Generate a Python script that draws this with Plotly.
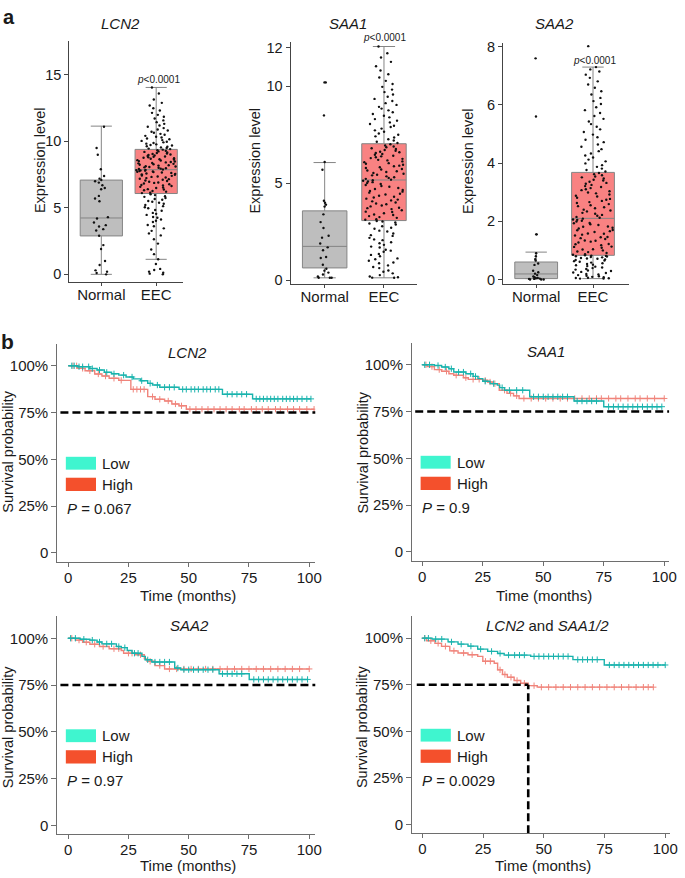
import numpy as np
import plotly.graph_objects as go

W, H = 685, 878
FONT = "Liberation Sans, Arial, sans-serif"
TXT = "#1a1a1a"

# ---------------- Panel a: expression data ----------------
categories = ["Normal", "EEC"]
box_genes = ["LCN2", "SAA1", "SAA2"]

# box statistics: [lower whisker, Q1, median, Q3, upper whisker]
lcn2_stats_normal = [0.0, 2.89, 4.24, 7.09, 11.15]
lcn2_stats_eec = [1.13, 6.08, 7.87, 9.40, 14.06]
saa1_stats_normal = [0.13, 0.64, 1.75, 3.58, 6.07]
saa1_stats_eec = [0.13, 3.08, 5.17, 7.04, 12.05]
saa2_stats_normal = [0.03, 0.03, 0.19, 0.60, 0.94]
saa2_stats_eec = [0.03, 0.83, 2.10, 3.68, 7.30]

lcn2_normal = [11.1, 9.5, 9.0, 7.9, 7.4, 7.2, 7.1, 7.0, 6.9, 6.7, 6.5, 6.4, 5.9, 5.7, 5.5,
               4.3, 4.2, 3.9, 3.7, 3.6, 3.4, 3.3, 2.9, 2.2, 1.9, 1.0, 0.7, 0.3, 0.2, 0.1, 0.0]
lcn2_eec = [0.0, 0.05, 0.12, 0.2, 0.33, 0.41, 0.78,
            1.13, 1.52, 1.87, 2.31, 2.64, 2.93, 3.08, 3.27, 3.46, 3.62, 3.71, 3.94,
            4.03, 4.12, 4.26, 4.31, 4.47, 4.55, 4.62, 4.78, 4.84, 4.97, 5.05, 5.13, 5.22, 5.31,
            5.38, 5.46, 5.52, 5.61, 5.67, 5.74, 5.83, 5.88, 5.96, 6.03,
            6.11, 6.14, 6.22, 6.27, 6.33, 6.38, 6.41, 6.49, 6.53, 6.58, 6.64, 6.69, 6.72, 6.78,
            6.83, 6.88, 6.91, 6.97, 7.02, 7.06, 7.11, 7.16, 7.19, 7.24, 7.28, 7.33, 7.36, 7.41,
            7.44, 7.49, 7.52, 7.56, 7.59, 7.63, 7.66, 7.69, 7.72, 7.74, 7.77, 7.8, 7.82, 7.84, 7.86,
            7.89, 7.92, 7.95, 7.98, 8.02, 8.05, 8.08, 8.11, 8.14, 8.18, 8.21, 8.24, 8.28, 8.31,
            8.35, 8.38, 8.42, 8.45, 8.49, 8.52, 8.56, 8.59, 8.63, 8.66, 8.7, 8.73, 8.77, 8.8,
            8.84, 8.87, 8.91, 8.94, 8.98, 9.02, 9.05, 9.09, 9.13, 9.17, 9.21, 9.25, 9.29, 9.33, 9.38,
            9.42, 9.46, 9.5, 9.55, 9.6, 9.64, 9.69, 9.73, 9.78, 9.83, 9.88, 9.93, 9.98, 10.04,
            10.1, 10.16, 10.22, 10.29, 10.35, 10.42, 10.5, 10.57, 10.65, 10.73, 10.82, 10.9,
            11.0, 11.1, 11.2, 11.32, 11.45, 11.58, 11.72, 11.86, 12.0, 12.15, 12.32, 12.5,
            12.7, 12.9, 13.15, 13.6, 14.06]

saa1_normal = [10.2, 10.2, 8.5, 6.1, 5.7, 4.1, 4.0, 3.9, 3.8, 3.4, 3.0, 2.7, 2.3, 2.2, 1.9,
               1.7, 1.55, 1.2, 1.15, 0.8, 0.6, 0.5, 0.4, 0.3, 0.2, 0.13, 0.13, 0.13]
saa1_eec = [0.13, 0.14, 0.16, 0.2, 0.27, 0.36, 0.44, 0.51, 0.63, 0.69, 0.77, 0.88, 0.92, 1.01,
            1.09, 1.13, 1.24, 1.31, 1.36, 1.47, 1.53, 1.58, 1.69, 1.74, 1.83, 1.91, 1.96, 2.07,
            2.11, 2.19, 2.29, 2.33, 2.41, 2.52, 2.56, 2.66, 2.71, 2.79, 2.88, 2.93, 2.98, 3.03, 3.06,
            3.12, 3.15, 3.22, 3.26, 3.31, 3.37, 3.39, 3.46, 3.52, 3.54, 3.61, 3.67, 3.72, 3.74,
            3.81, 3.86, 3.92, 3.96, 4.01, 4.07, 4.12, 4.16, 4.21, 4.27, 4.31, 4.36, 4.42, 4.46,
            4.52, 4.57, 4.61, 4.66, 4.71, 4.76, 4.82, 4.86, 4.91, 4.97, 5.01, 5.06, 5.09, 5.13, 5.16,
            5.19, 5.23, 5.28, 5.31, 5.36, 5.41, 5.44, 5.49, 5.53, 5.58, 5.62, 5.66, 5.71, 5.74,
            5.79, 5.83, 5.88, 5.91, 5.96, 6.01, 6.04, 6.09, 6.13, 6.18, 6.21, 6.26, 6.3, 6.34,
            6.39, 6.42, 6.47, 6.51, 6.56, 6.6, 6.63, 6.68, 6.72, 6.77, 6.81, 6.86, 6.9, 6.95, 7.01,
            7.08, 7.14, 7.21, 7.27, 7.36, 7.42, 7.5, 7.57, 7.66, 7.73, 7.82, 7.9, 7.97, 8.06,
            8.14, 8.23, 8.31, 8.4, 8.48, 8.57, 8.66, 8.76, 8.85, 8.94, 9.04, 9.13, 9.24, 9.35,
            9.46, 9.58, 9.7, 9.83, 9.97, 10.12, 10.28, 10.45, 10.62, 10.81, 11.03, 11.26, 11.48,
            11.7, 12.05]

saa2_normal = [7.6, 5.6, 1.55, 1.55, 0.9, 0.8, 0.7, 0.65, 0.55, 0.5, 0.3, 0.25, 0.2, 0.15,
               0.1, 0.08, 0.05, 0.04, 0.03, 0.02, 0.02, 0.0, 0.0, 0.0]
saa2_eec = [0.03, 0.03, 0.04, 0.05, 0.06, 0.08, 0.09, 0.11, 0.13, 0.15, 0.17, 0.19, 0.22, 0.24,
            0.26, 0.29, 0.31, 0.34, 0.36, 0.39, 0.41, 0.44, 0.46, 0.49, 0.51, 0.53, 0.56, 0.58,
            0.61, 0.63, 0.65, 0.67, 0.69, 0.71, 0.72, 0.74, 0.76, 0.77, 0.79, 0.8, 0.81, 0.82, 0.83,
            0.85, 0.87, 0.91, 0.94, 0.96, 1.0, 1.03, 1.04, 1.09, 1.12, 1.13, 1.18, 1.21, 1.22,
            1.27, 1.3, 1.33, 1.34, 1.39, 1.42, 1.45, 1.46, 1.51, 1.54, 1.57, 1.58, 1.63, 1.66,
            1.69, 1.7, 1.75, 1.78, 1.81, 1.82, 1.87, 1.9, 1.93, 1.94, 1.99, 2.02, 2.05, 2.06, 2.09,
            2.12, 2.15, 2.19, 2.22, 2.26, 2.29, 2.34, 2.37, 2.4, 2.45, 2.48, 2.52, 2.55, 2.59,
            2.63, 2.66, 2.7, 2.74, 2.77, 2.81, 2.85, 2.88, 2.92, 2.96, 2.99, 3.03, 3.07, 3.1,
            3.14, 3.18, 3.21, 3.25, 3.29, 3.32, 3.36, 3.4, 3.43, 3.47, 3.51, 3.54, 3.58, 3.62, 3.66,
            3.71, 3.76, 3.81, 3.87, 3.93, 3.99, 4.06, 4.12, 4.19, 4.26, 4.33, 4.41, 4.48, 4.56,
            4.64, 4.72, 4.8, 4.89, 4.98, 5.07, 5.16, 5.25, 5.34, 5.43, 5.52, 5.62, 5.72, 5.82,
            5.92, 6.03, 6.13, 6.24, 6.36, 6.47, 6.59, 6.7, 6.81, 6.93, 7.04, 7.15, 7.22, 7.3, 8.02]

lcn2_ticks = [0, 5, 10, 15]
saa1_ticks = [0, 5, 10, 12]
saa2_ticks = [0, 2, 4, 6, 8]
p_box_label = "<i>p</i>&lt;0.0001"

# ---------------- Panel b: Kaplan-Meier data ----------------
km_titles = ["<i>LCN2</i>", "<i>SAA1</i>", "<i>SAA2</i>", "<i>LCN2</i> and <i>SAA1/2</i>"]
km_pvalues = ["0.067", "0.9", "0.97", "0.0029"]
group_labels = ["Low", "High"]
time_ticks = [0, 25, 50, 75, 100]
surv_ticks = [0, 0.25, 0.5, 0.75, 1.0]
surv_tick_text = ["0", "25%", "50%", "75%", "100%"]

lcn2_low_t = [0, 4, 9, 12, 15, 18, 21, 24, 27, 30, 33, 35, 38, 46, 64, 76.5, 100.7]
lcn2_low_s = [1.0, 0.995, 0.985, 0.977, 0.965, 0.957, 0.95, 0.94, 0.93, 0.92, 0.906, 0.897,
              0.885, 0.874, 0.848, 0.823, 0.823]
lcn2_low_cens = [1.5, 2.5, 4.5, 6, 8.5, 10, 13, 16, 19, 23, 26.5, 30.5, 34, 37, 40, 42, 44,
                 47.5, 49, 51, 52.5, 54, 56, 57.5, 59, 61, 62.5, 66, 68, 70, 72, 74, 78, 79.5,
                 81, 82.5, 84, 85.5, 87, 89, 90.5, 92, 93.5, 95, 97, 99, 100.7]
lcn2_high_t = [0, 4, 7, 11, 14, 17, 21, 26, 33, 36, 40, 43, 46, 49, 102]
lcn2_high_s = [1.0, 0.986, 0.973, 0.956, 0.945, 0.933, 0.922, 0.874, 0.835, 0.821, 0.812,
               0.796, 0.786, 0.768, 0.768]
lcn2_high_cens = [2, 3.5, 6, 9, 12.5, 15.5, 19, 22, 27, 28.5, 30, 31.5, 35, 38, 41.5, 44.5,
                  47, 50.5, 53, 55.5, 58, 60.5, 63, 65.5, 68, 71, 73, 76, 78, 80.5, 83, 86, 88,
                  91, 93.5, 96, 99, 102]

saa1_low_t = [0, 5, 8, 11, 13, 18, 21, 23, 25, 28, 31, 32, 34, 44.4, 62.7, 75, 99]
saa1_low_s = [1.0, 0.996, 0.988, 0.979, 0.961, 0.952, 0.938, 0.926, 0.912, 0.899, 0.891,
              0.878, 0.864, 0.829, 0.806, 0.776, 0.776]
saa1_low_cens = [1, 3, 6.5, 9.5, 12, 15, 17, 20, 22, 26, 29.5, 33, 36, 39, 41.5, 46, 48, 50,
                 52, 54, 56, 58, 60, 64, 66, 68, 70, 72, 77, 79, 81, 83, 85, 87, 89, 91, 93,
                 95, 97, 99]
saa1_high_t = [0, 2, 5, 8, 11, 13, 17, 19, 25, 27, 29, 31.8, 35, 37.7, 40, 100]
saa1_high_s = [1.0, 0.99, 0.974, 0.965, 0.952, 0.944, 0.931, 0.922, 0.917, 0.908, 0.899,
               0.864, 0.847, 0.834, 0.82, 0.82]
saa1_high_cens = [1.5, 4, 7, 10, 14, 18, 21, 23.5, 26, 28, 30, 34, 36.5, 39, 42, 45, 48, 51,
                  54, 57, 60, 63, 66, 69, 72, 74, 77, 80, 82, 85, 88, 90, 93, 96, 100]

saa2_low_t = [0, 5, 9, 12, 14, 20, 22, 24.5, 26.5, 30.6, 32, 34.7, 44.2, 46.7, 62.6, 75.1, 99.3]
saa2_low_s = [1.0, 0.995, 0.99, 0.98, 0.97, 0.956, 0.95, 0.935, 0.92, 0.903, 0.885, 0.873,
              0.841, 0.832, 0.81, 0.78, 0.78]
saa2_low_cens = [1, 3, 6.5, 10, 13, 16, 18, 21, 23.5, 27.5, 29, 33, 36, 38, 40, 42, 45.5, 48,
                 50, 52, 54, 56, 58, 60, 64, 66, 68, 70, 72, 77, 79, 81, 83, 85, 87, 89, 91,
                 93, 95, 97, 99.3]
saa2_high_t = [0, 3, 6, 9, 13, 17, 22, 23, 28, 31.6, 32.7, 36, 40, 100]
saa2_high_s = [1.0, 0.99, 0.979, 0.968, 0.956, 0.944, 0.935, 0.92, 0.912, 0.89, 0.877,
               0.854, 0.836, 0.836]
saa2_high_cens = [1.5, 4.5, 7.5, 11, 14.5, 19, 21, 25, 26.5, 30, 34, 38, 42, 45, 48, 51, 54,
                  57, 60, 63, 66, 69, 72, 75, 78, 81, 84, 87, 90, 93, 96, 100]

comb_low_t = [0, 4, 10.6, 14.7, 18.8, 22.8, 26.9, 31, 33.7, 44.6, 62, 74.9, 100]
comb_low_s = [1.0, 0.995, 0.98, 0.968, 0.957, 0.941, 0.929, 0.918, 0.909, 0.902, 0.885,
              0.856, 0.856]
comb_low_cens = [1, 2.5, 5.5, 8, 12, 16, 20, 24, 28.5, 32, 35.5, 38, 40, 42, 46, 48, 50, 52,
                 54, 56, 58, 60, 64, 66, 68, 70, 72, 77, 79, 81, 83, 85, 87, 89, 91, 93, 95,
                 97, 100]
comb_high_t = [0, 1.8, 5.2, 7.9, 11.3, 14.7, 18.8, 22.8, 24.9, 29.6, 31, 33, 35, 37.8, 40.5,
               43.6, 47.3, 95.1]
comb_high_s = [1.0, 0.986, 0.972, 0.956, 0.932, 0.92, 0.911, 0.902, 0.876, 0.865, 0.83,
               0.805, 0.79, 0.773, 0.758, 0.745, 0.737, 0.737]
comb_high_cens = [1, 3.5, 6.5, 9.5, 13, 17, 20.5, 26, 28, 32, 34, 36.5, 39, 42, 46, 49, 52,
                  55, 58, 61, 64, 67, 70, 73, 76, 79, 82, 85, 88, 91, 93, 95.1]

reference_survival = 0.75

# ---------------- styling ----------------
BOX_FILL = {"Normal": "#bebebe", "EEC": "#f98282"}
BOX_LINE = "#858585"
LOW_LINE, HIGH_LINE = "#19b3ad", "#f0847b"
LOW_SWATCH, HIGH_SWATCH = "#3ff5cf", "#f4502c"
AXIS_BOX = "#444444"
AXIS_KM = "#6e6e6e"


def xdom(a, b):
    return [a / W, b / W]


def ydom(top, bottom):
    return [1 - bottom / H, 1 - top / H]


fig = go.Figure()

# ---- box panels ----
box_panels = [
    dict(ax="", normal=lcn2_normal, eec=lcn2_eec, sn=lcn2_stats_normal, se=lcn2_stats_eec,
         xd=xdom(70, 185), yd=ydom(37, 281), xr=[-0.586, 1.486], yr=[-0.61, 17.58],
         ticks=lcn2_ticks, width=0.77),
    dict(ax="2", normal=saa1_normal, eec=saa1_eec, sn=saa1_stats_normal, se=saa1_stats_eec,
         xd=xdom(294, 422), yd=ydom(38, 283), xr=[-0.575, 1.558], yr=[-0.21, 12.3],
         ticks=saa1_ticks, width=0.75),
    dict(ax="3", normal=saa2_normal, eec=saa2_eec, sn=saa2_stats_normal, se=saa2_stats_eec,
         xd=xdom(509, 636), yd=ydom(39, 283), xr=[-0.583, 1.626], yr=[-0.17, 8.14],
         ticks=saa2_ticks, width=0.753),
]

for p in box_panels:
    xa, ya = "x" + p["ax"], "y" + p["ax"]
    for cat, stats, pts, jit in [("Normal", p["sn"], p["normal"], 0.45),
                                 ("EEC", p["se"], p["eec"], 0.95)]:
        fig.add_trace(go.Box(
            x=[cat], lowerfence=[stats[0]], q1=[stats[1]], median=[stats[2]],
            q3=[stats[3]], upperfence=[stats[4]], orientation="v",
            fillcolor=BOX_FILL[cat], line=dict(color=BOX_LINE, width=1),
            width=p["width"], whiskerwidth=0.5, boxpoints=False,
            xaxis=xa, yaxis=ya, showlegend=False, hoverinfo="skip"))
        fig.add_trace(go.Box(
            x=[cat] * len(pts), y=pts, orientation="v", boxpoints="all",
            jitter=jit, pointpos=0, width=p["width"],
            fillcolor="rgba(0,0,0,0)", line=dict(color="rgba(0,0,0,0)", width=0),
            marker=dict(color="#111111", size=2.4), xaxis=xa, yaxis=ya,
            showlegend=False, hoveron="points"))

# ---- KM panels ----
km_panels = [
    dict(ax="4", low=(lcn2_low_t, lcn2_low_s, lcn2_low_cens),
         high=(lcn2_high_t, lcn2_high_s, lcn2_high_cens),
         xd=xdom(58, 319), yd=ydom(343, 563), xr=[-4.5, 102.5]),
    dict(ax="5", low=(saa1_low_t, saa1_low_s, saa1_low_cens),
         high=(saa1_high_t, saa1_high_s, saa1_high_cens),
         xd=xdom(417, 677), yd=ydom(342, 562), xr=[-4.2, 102.0]),
    dict(ax="6", low=(saa2_low_t, saa2_low_s, saa2_low_cens),
         high=(saa2_high_t, saa2_high_s, saa2_high_cens),
         xd=xdom(58, 319), yd=ydom(618, 838), xr=[-4.5, 102.5]),
    dict(ax="7", low=(comb_low_t, comb_low_s, comb_low_cens),
         high=(comb_high_t, comb_high_s, comb_high_cens),
         xd=xdom(417, 678), yd=ydom(618, 837), xr=[-4.2, 102.0]),
]
km_yrange = [-0.048, 1.117]


def step_at(times, surv, query):
    times = np.asarray(times, dtype=float)
    surv = np.asarray(surv, dtype=float)
    idx = np.searchsorted(times, np.asarray(query, dtype=float), side="right") - 1
    return surv[np.clip(idx, 0, len(surv) - 1)]


for p in km_panels:
    xa, ya = "x" + p["ax"], "y" + p["ax"]
    for (t, s, c), col in [(p["high"], HIGH_LINE), (p["low"], LOW_LINE)]:
        fig.add_trace(go.Scatter(x=t, y=s, mode="lines", line=dict(color=col, width=1.4, shape="hv"),
                                 xaxis=xa, yaxis=ya, showlegend=False, hoverinfo="skip"))
        fig.add_trace(go.Scatter(x=c, y=step_at(t, s, c), mode="markers",
                                 marker=dict(symbol="cross-thin", size=4.5,
                                             line=dict(color=col, width=1)),
                                 xaxis=xa, yaxis=ya, showlegend=False, hoverinfo="skip"))

# ---------------- layout axes ----------------
layout = dict(width=W, height=H, margin=dict(l=0, r=0, t=0, b=0),
              paper_bgcolor="white", plot_bgcolor="white", showlegend=False,
              font=dict(family=FONT, color=TXT))

for p in box_panels:
    n = p["ax"]
    layout["xaxis" + n] = dict(domain=p["xd"], anchor="y" + n, type="category",
                               categoryorder="array", categoryarray=categories,
                               range=p["xr"], showline=True, linecolor=AXIS_BOX, linewidth=1,
                               ticks="outside", ticklen=3, tickcolor=AXIS_BOX,
                               ticklabelstandoff=-4,
                               tickfont=dict(size=15, color=TXT), showgrid=False, zeroline=False)
    layout["yaxis" + n] = dict(domain=p["yd"], anchor="x" + n, range=p["yr"],
                               tickvals=p["ticks"], showline=True, linecolor=AXIS_BOX,
                               linewidth=1, ticks="outside", ticklen=4, tickcolor=AXIS_BOX,
                               tickfont=dict(size=14.5, color=TXT), showgrid=False,
                               zeroline=False)

for p in km_panels:
    n = p["ax"]
    layout["xaxis" + n] = dict(domain=p["xd"], anchor="y" + n, range=p["xr"],
                               tickvals=time_ticks, showline=True, linecolor=AXIS_KM,
                               linewidth=1.2, ticks="outside", ticklen=4, tickcolor=AXIS_KM,
                               ticklabelstandoff=-2,
                               tickfont=dict(size=15, color=TXT), showgrid=False,
                               zeroline=False)
    layout["yaxis" + n] = dict(domain=p["yd"], anchor="x" + n, range=km_yrange,
                               tickvals=surv_ticks, ticktext=surv_tick_text, showline=True,
                               linecolor=AXIS_KM, linewidth=1.2, ticks="outside", ticklen=5,
                               tickcolor=AXIS_KM, tickfont=dict(size=15, color=TXT),
                               showgrid=False, zeroline=False)

fig.update_layout(**layout)

# ---------------- annotations & shapes ----------------
ann = []


def paper_text(text, xpx, ypx, size, angle=0, bold=False, xanchor="center", yanchor="middle"):
    ann.append(dict(text=("<b>%s</b>" % text) if bold else text, x=xpx / W, y=1 - ypx / H,
                    xref="paper", yref="paper", showarrow=False, textangle=angle,
                    xanchor=xanchor, yanchor=yanchor, font=dict(size=size, color=TXT)))


paper_text("a", 9, 0, 20, bold=True, yanchor="top")
paper_text("b", 8, 341, 21, bold=True)

# box titles, y-titles, p labels
for (gene, xc, ytx, pval_xy) in [("LCN2", 122, 40, (160, 76)),
                                 ("SAA1", 352, 258, (389, 34)),
                                 ("SAA2", 561, 473, (602, 57))]:
    paper_text("<i>%s</i>" % gene, xc, 20, 15)
    paper_text("Expression level", ytx, 158, 14.5, angle=-90)
    paper_text(p_box_label, pval_xy[0], pval_xy[1], 10)

# KM titles, axis titles, legends, p values
km_axis_titles = [(8, 452, 190, 597), (367, 453, 550, 597), (8, 730, 190, 869), (367, 730, 549, 869)]
km_title_x = [0.506, 0.52, 0.513, 0.523]
for i, p in enumerate(km_panels):
    n = p["ax"]
    ytx, yty, xtx, xty = km_axis_titles[i]
    paper_text("Survival probability", ytx, yty, 14.5, angle=-90)
    paper_text("Time (months)", xtx, xty, 15)
    ann.append(dict(text=km_titles[i], x=km_title_x[i], y=0.96, xref="x%s domain" % n,
                    yref="y%s domain" % n, showarrow=False, xanchor="center",
                    yanchor="middle", font=dict(size=15, color=TXT)))
    for lab, ymid in zip(group_labels, [0.452, 0.355]):
        ann.append(dict(text=lab, x=0.165, y=ymid, xref="x%s domain" % n,
                        yref="y%s domain" % n, showarrow=False, xanchor="left",
                        yanchor="middle", font=dict(size=15, color=TXT)))
    ann.append(dict(text="<i>P</i> = %s" % km_pvalues[i], x=0.03, y=0.245,
                    xref="x%s domain" % n, yref="y%s domain" % n, showarrow=False,
                    xanchor="left", yanchor="middle", font=dict(size=15, color=TXT)))

shapes = []
for p in km_panels:
    n = p["ax"]
    for col, (y0, y1) in [(LOW_SWATCH, (0.423, 0.482)), (HIGH_SWATCH, (0.325, 0.386))]:
        shapes.append(dict(type="rect", xref="x%s domain" % n, yref="y%s domain" % n,
                           x0=0.033, x1=0.15, y0=y0, y1=y1, fillcolor=col,
                           line=dict(width=0), layer="above"))

DASH = dict(color="black", width=2.6, dash="8px,4px")
for p in km_panels[:3]:
    n = p["ax"]
    shapes.append(dict(type="line", xref="x%s domain" % n, yref="y" + n, x0=0.012, x1=1.0,
                       y0=reference_survival, y1=reference_survival, line=DASH, layer="above"))

# combined panel: 75% reached by the high group
ht = np.asarray(comb_high_t)
hs = np.asarray(comb_high_s)
t75 = float(ht[np.argmax(hs <= reference_survival)])
shapes.append(dict(type="line", xref="x7", yref="y7", x0=-2.3, x1=t75,
                   y0=reference_survival, y1=reference_survival, line=DASH, layer="above"))
shapes.append(dict(type="line", xref="x7", yref="y7", x0=t75, x1=t75,
                   y0=km_yrange[0], y1=reference_survival, line=DASH, layer="above"))

fig.update_layout(annotations=ann, shapes=shapes)
fig.write_html("out.html", config={"displayModeBar": False},
               post_script="document.body.style.margin='0';document.body.style.overflow='hidden';")
